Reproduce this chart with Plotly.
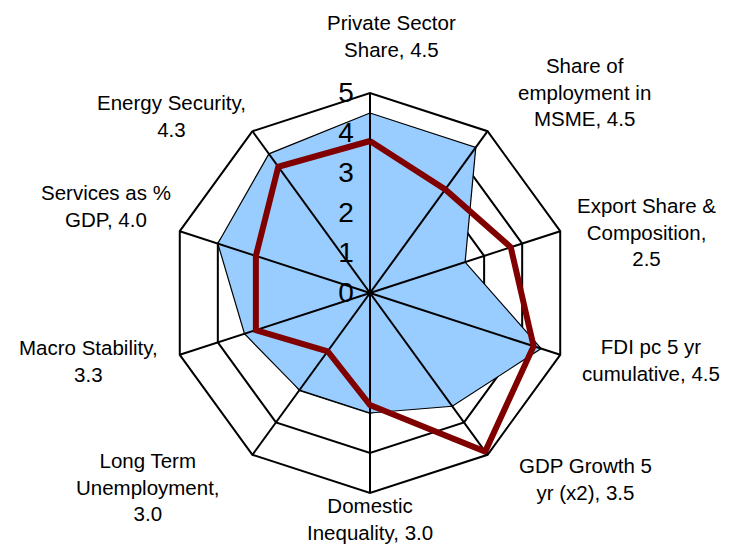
import plotly.graph_objects as go

# categories (clockwise from the top)
categories = [
    "Private Sector Share",
    "Share of employment in MSME",
    "Export Share & Composition",
    "FDI pc 5 yr cumulative",
    "GDP Growth 5 yr (x2)",
    "Domestic Inequality",
    "Long Term Unemployment",
    "Macro Stability",
    "Services as % GDP",
    "Energy Security",
]
# wrapped label text as shown next to each spoke
labels = [
    "Private Sector<br>Share, 4.5",
    "Share of<br>employment in<br>MSME, 4.5",
    "Export Share &<br>Composition,<br>2.5",
    "FDI pc 5 yr<br>cumulative, 4.5",
    "GDP Growth 5<br>yr (x2), 3.5",
    "Domestic<br>Inequality, 3.0",
    "Long Term<br>Unemployment,<br>3.0",
    "Macro Stability,<br>3.3",
    "Services as %<br>GDP, 4.0",
    "Energy Security,<br>4.3",
]
country = [4.5, 4.5, 2.5, 4.5, 3.5, 3.0, 3.0, 3.3, 4.0, 4.3]
benchmark = [3.8, 3.2, 3.7, 4.3, 4.9, 2.8, 1.8, 3.0, 3.0, 3.9]
radial_ticks = [0, 1, 2, 3, 4, 5]

# label block centres on the page (px from top-left)
label_pos = [(391, 36), (584, 92), (646, 232), (651, 360), (585, 479),
             (370, 519), (148, 487), (88, 361), (106, 206), (171, 116)]

W, H = 730, 545
OFF = 8  # page body margin
FONT = "Liberation Sans, Arial, sans-serif"

fig = go.Figure()

# filled area
fig.add_trace(go.Scatterpolar(
    r=country + country[:1], theta=categories + categories[:1],
    mode="lines", fill="toself", fillcolor="#99CCFF",
    line=dict(color="black", width=1.2), showlegend=False, hoverinfo="skip"))

# spokes drawn above the fill
for cat in categories:
    fig.add_trace(go.Scatterpolar(
        r=[radial_ticks[0], radial_ticks[-1]], theta=[cat, cat],
        mode="lines", line=dict(color="black", width=2),
        showlegend=False, hoverinfo="skip"))

# dark red line
fig.add_trace(go.Scatterpolar(
    r=benchmark + benchmark[:1], theta=categories + categories[:1],
    mode="lines", line=dict(color="#800000", width=6),
    showlegend=False))

for text, (px, py) in zip(labels, label_pos):
    fig.add_annotation(
        text=text, xref="paper", yref="paper",
        x=(px - OFF) / W, y=1 - (py - OFF) / H,
        xanchor="center", yanchor="middle", align="center",
        showarrow=False, font=dict(size=20.5, family=FONT, color="black"))

cx, cy, R = 370 - OFF, 293 - OFF, 200
fig.update_layout(
    width=W, height=H,
    margin=dict(l=0, r=0, t=0, b=0),
    paper_bgcolor="white",
    font=dict(family=FONT, color="black"),
    polar=dict(
        domain=dict(x=[(cx - R) / W, (cx + R) / W],
                    y=[(H - cy - R) / H, (H - cy + R) / H]),
        bgcolor="white",
        gridshape="linear",
        radialaxis=dict(
            range=[0, 5], angle=90, tickangle=90,
            tickmode="array", tickvals=radial_ticks,
            tickfont=dict(size=28, family=FONT),
            showline=False, ticks="outside", ticklen=6,
            tickcolor="rgba(0,0,0,0)",
            gridcolor="black", gridwidth=2,
            side="counterclockwise",
        ),
        angularaxis=dict(
            rotation=90, direction="clockwise",
            showgrid=False, linecolor="black", linewidth=2,
            ticks="", showticklabels=False,
        ),
    ),
)

fig.write_html("out.html")
